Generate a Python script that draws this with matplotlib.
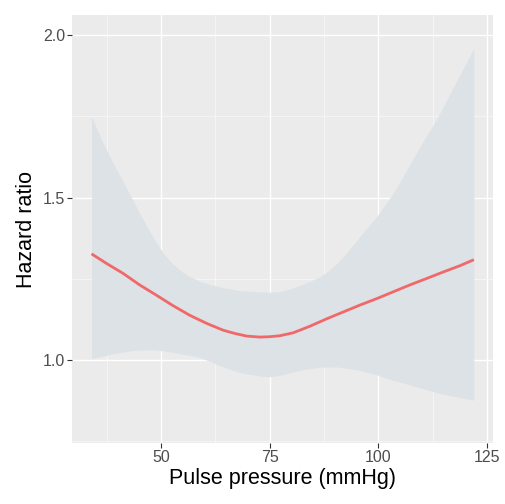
import matplotlib
matplotlib.use("Agg")
import matplotlib.pyplot as plt

# Fitted hazard ratio curve
line_x = [34.0, 37.5, 41.25, 45.0, 48.9, 52.7, 56.6, 60.5, 64.3, 67.0, 69.7, 72.7, 75.0, 77.3,
          80.4, 84.2, 88.1, 91.9, 95.7, 99.6, 103.4, 107.2, 111.1, 114.9, 118.7, 122.0]
line_y = [1.327, 1.297, 1.267, 1.232, 1.200, 1.168, 1.138, 1.113, 1.092, 1.082, 1.074, 1.071, 1.072, 1.075,
          1.084, 1.104, 1.127, 1.148, 1.169, 1.189, 1.210, 1.231, 1.251, 1.271, 1.290, 1.309]

# Confidence band
band_x = [34.0, 36.5, 39.0, 41.25, 43.2, 45.1, 47.0, 48.9, 50.8, 52.8,
          54.7, 56.6, 58.9, 61.5, 64.3, 68.0, 72.7, 75.0, 77.3, 80.4,
          83.4, 86.5, 88.5, 90.4, 91.9, 93.8, 95.7, 97.6, 99.6, 101.5,
          103.4, 105.7, 107.6, 109.5, 111.4, 113.4, 115.3, 117.2, 119.6, 122.0]
band_upper = [1.749, 1.672, 1.605, 1.550, 1.500, 1.451, 1.405, 1.362, 1.324, 1.295,
              1.273, 1.257, 1.243, 1.232, 1.223, 1.214, 1.210, 1.209, 1.211, 1.222,
              1.237, 1.256, 1.275, 1.297, 1.318, 1.348, 1.379, 1.410, 1.441, 1.477,
              1.513, 1.565, 1.610, 1.655, 1.697, 1.740, 1.788, 1.838, 1.898, 1.959]
band_lower = [1.005, 1.012, 1.020, 1.025, 1.029, 1.031, 1.032, 1.031, 1.028, 1.024,
              1.019, 1.015, 1.008, 0.995, 0.979, 0.962, 0.951, 0.949, 0.953, 0.964,
              0.973, 0.978, 0.979, 0.979, 0.977, 0.973, 0.969, 0.962, 0.955, 0.946,
              0.938, 0.930, 0.922, 0.915, 0.908, 0.900, 0.894, 0.889, 0.883, 0.877]

x_ticks = [50, 75, 100, 125]
y_ticks = [1.0, 1.5, 2.0]
y_tick_labels = ["1.0", "1.5", "2.0"]

plt.rcParams['font.family'] = ['Liberation Sans', 'DejaVu Sans']

fig = plt.figure(figsize=(5.05, 5.04), dpi=100)
ax = fig.add_axes([0.1426, 0.121, 0.8336, 0.849])
ax.set_facecolor('#EBEBEB')

ax.fill_between(band_x, band_lower, band_upper, color='#DCE2E5', lw=0, zorder=2)
ax.plot(line_x, line_y, color='#F0686A', lw=2.0, zorder=3, solid_capstyle='butt')

ax.set_xlim(29.5, 126.4)
ax.set_ylim(0.745, 2.0615)
ax.set_xticks(x_ticks)
ax.set_xticklabels([str(t) for t in x_ticks])
ax.set_yticks(y_ticks)
ax.set_yticklabels(y_tick_labels)
ax.set_xticks([37.5, 62.5, 87.5, 112.5], minor=True)
ax.set_yticks([0.75, 1.25, 1.75], minor=True)

ax.grid(True, which='major', color='white', lw=1.0, zorder=1)
ax.grid(True, which='minor', color='#F6F6F6', lw=0.6, zorder=1)
ax.set_axisbelow(True)
for s in ax.spines.values():
    s.set_visible(False)

ax.tick_params(which='major', length=3.6, width=0.8, color='#333333',
               labelsize=11.5, labelcolor='#4D4D4D', pad=1.5)
ax.tick_params(which='minor', length=0)

ax.set_xlabel('Pulse pressure (mmHg)', fontsize=15.5, color='black', labelpad=2)
ax.set_ylabel('Hazard ratio', fontsize=15.5, color='black', labelpad=4)

fig.savefig('out.png', dpi=100, facecolor='white')
